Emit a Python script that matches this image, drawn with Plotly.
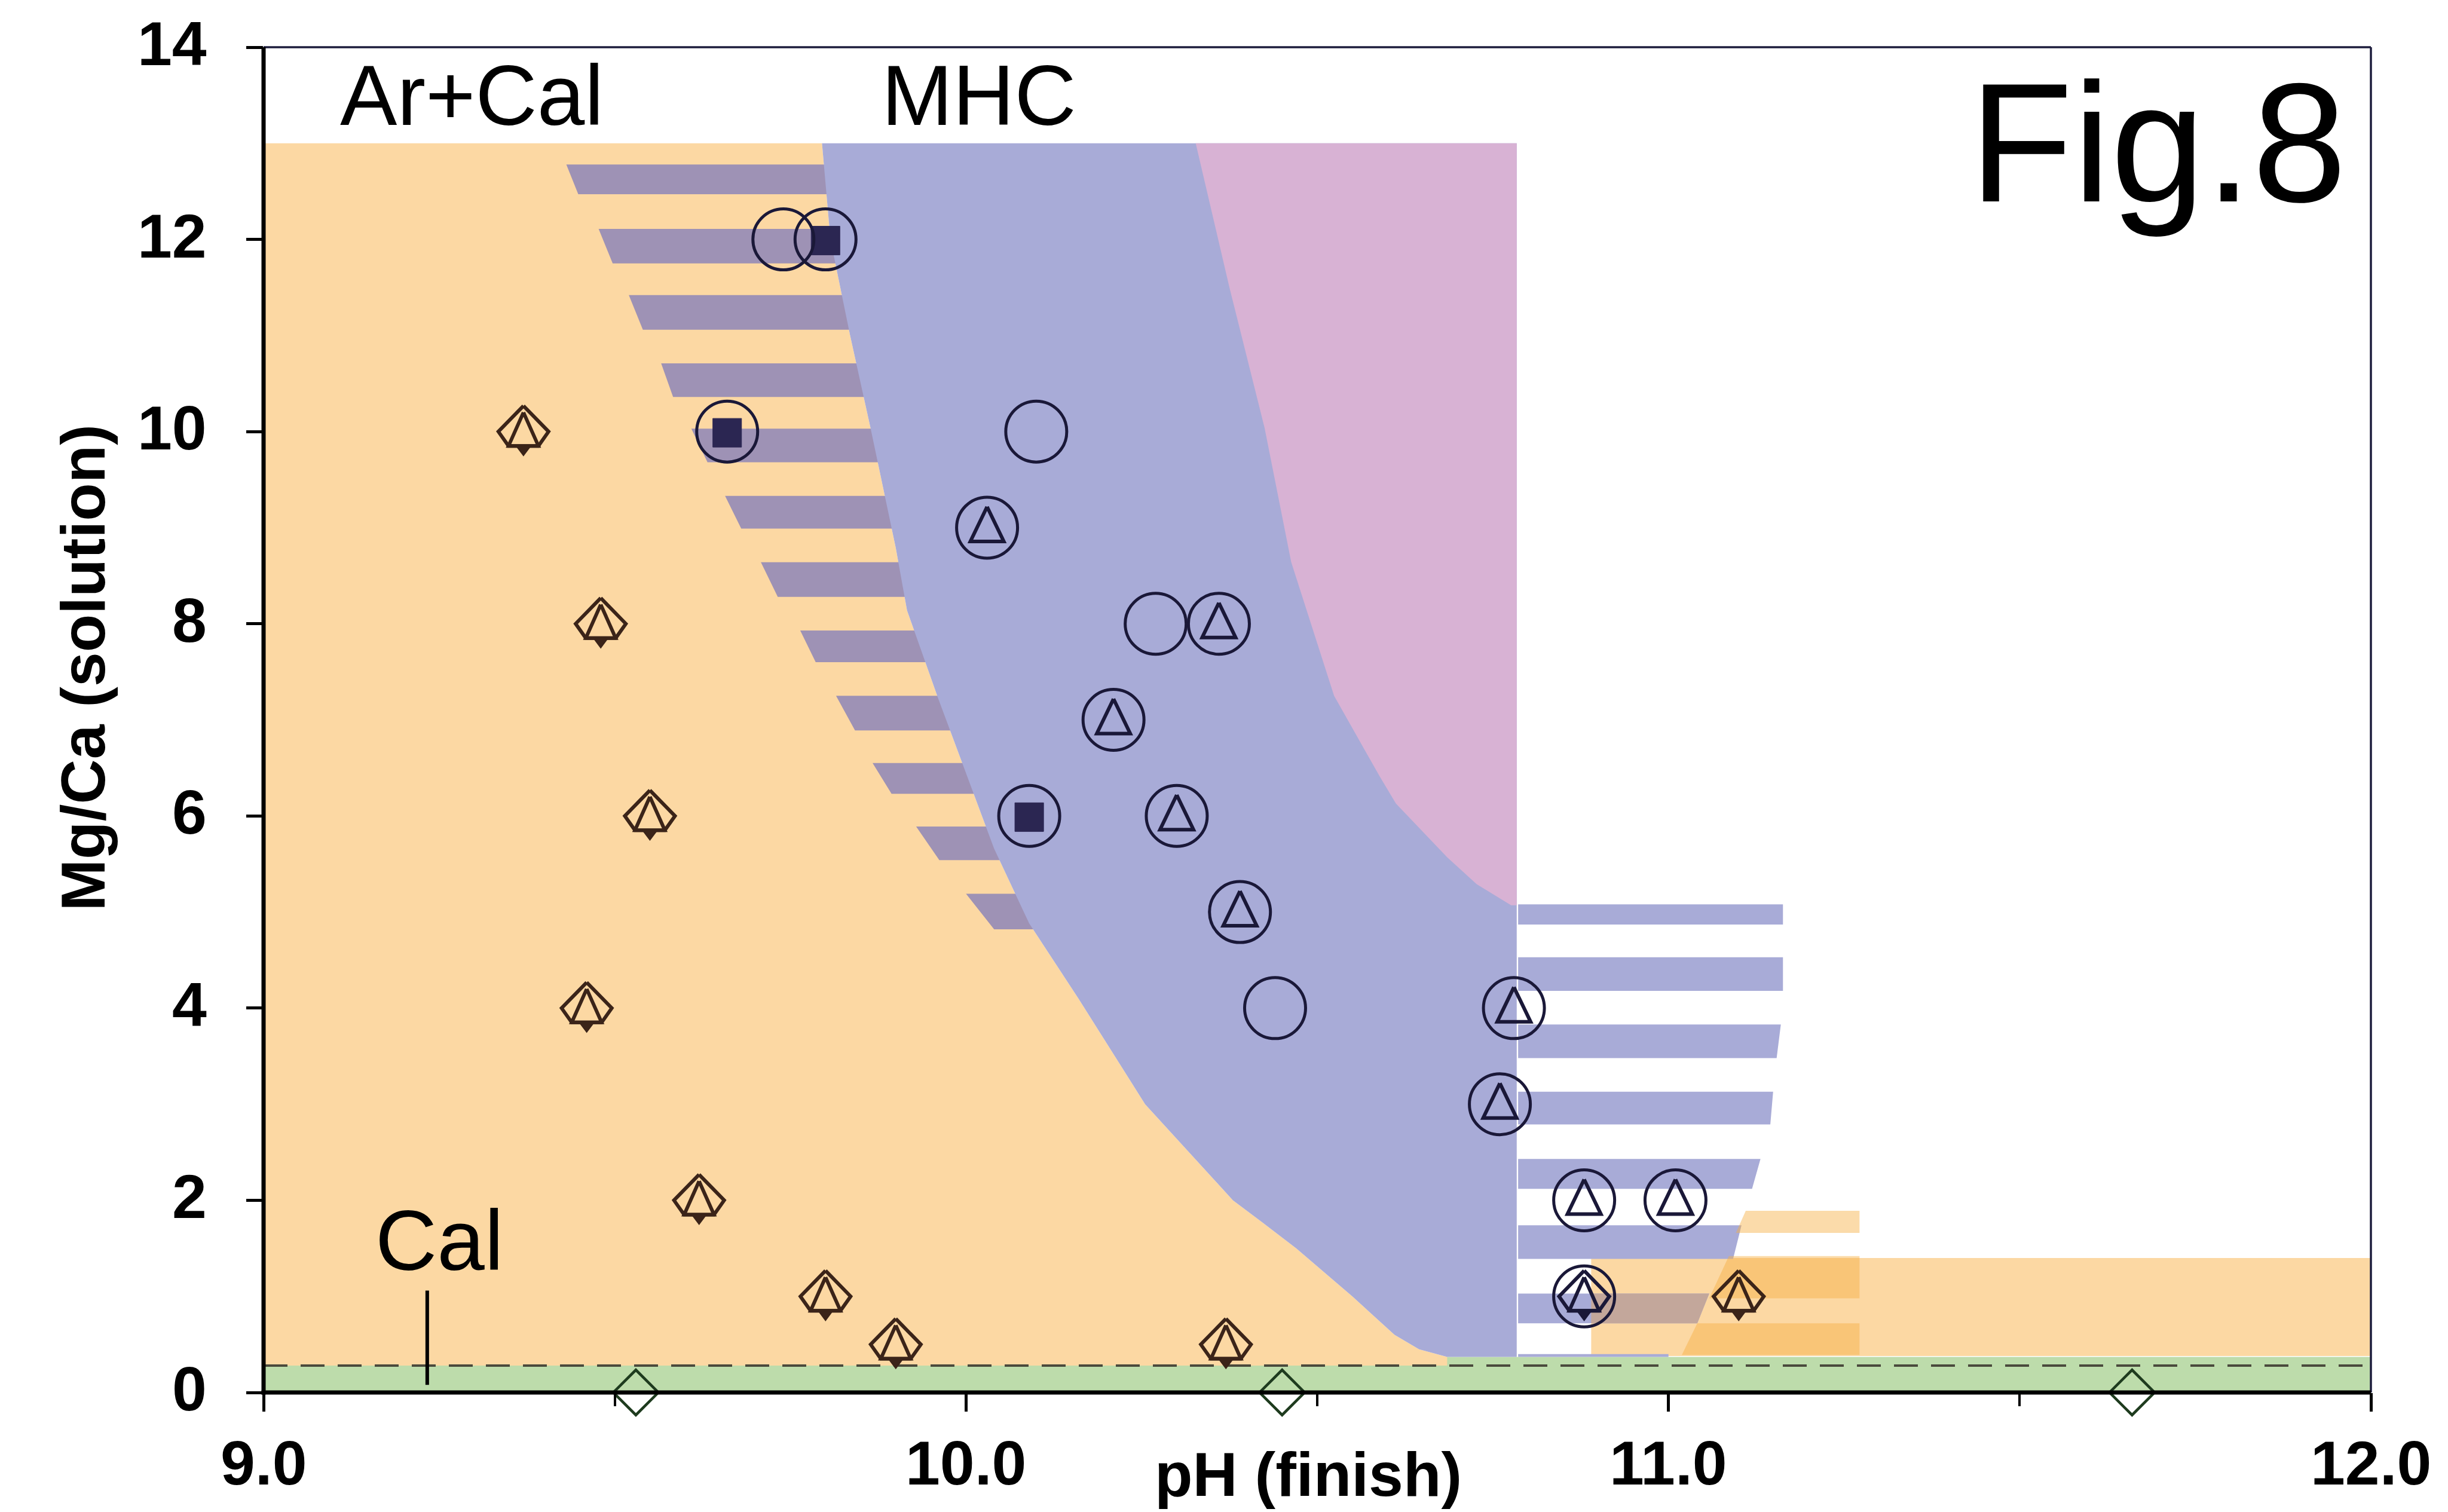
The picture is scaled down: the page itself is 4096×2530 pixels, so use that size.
import plotly.graph_objects as go

# ---------------------------------------------------------------- data ----
# Runs that gave aragonite + calcite (diamond/triangle symbol)
ARCAL_PH = [9.37, 9.48, 9.55, 9.46, 9.62, 9.80, 9.90, 10.37, 11.10]
ARCAL_MGCA = [10, 8, 6, 4, 2, 1, 0.5, 0.5, 1]

# Runs with monohydrocalcite (ringed)
RING_PH = [9.74, 9.80, 9.66, 10.10, 10.03, 10.27, 10.36, 10.21, 10.09,
           10.30, 10.39, 10.44, 10.78, 10.76, 10.88, 11.01, 10.88]
RING_MGCA = [12, 12, 10, 10, 9, 8, 8, 7, 6, 6, 5, 4, 4, 3, 2, 2, 1]

# Symbols drawn inside the rings
TRI_PH = [10.03, 10.36, 10.21, 10.30, 10.39, 10.78, 10.76, 10.88, 11.01]
TRI_MGCA = [9, 8, 7, 6, 5, 4, 3, 2, 2]
SQ_PH = [9.80, 9.66, 10.09]
SQ_MGCA = [12, 10, 6]
MIX_PH = [10.88]
MIX_MGCA = [1]

# Calcite-only runs
CAL_PH = [9.53, 10.45, 11.66]
CAL_MGCA = [0, 0, 0]

# Field boundaries
FIELD_TOP = 13.0
CAL_LIMIT = 0.28          # dashed calcite limit
GREEN_TOP = 0.37
MHC_RIGHT = 10.784

# Ar+Cal / MHC boundary (top -> bottom)
MHC_LEFT_PH = [9.795, 9.807, 9.835, 9.864, 9.900, 9.916, 9.960, 10.000, 10.040,
               10.090, 10.160, 10.255, 10.380, 10.420, 10.470, 10.550, 10.610, 10.645, 10.685]
MHC_LEFT_MGCA = [13.0, 12.0, 11.0, 10.04, 8.79, 8.14, 7.23, 6.45, 5.66,
                 4.88, 4.10, 3.00, 2.00, 1.78, 1.50, 1.00, 0.60, 0.45, 0.37]

# MHC / upper field boundary (top -> bottom)
UPPER_LEFT_PH = [10.327, 10.375, 10.425, 10.463, 10.524, 10.589, 10.612, 10.685, 10.727, 10.776]
UPPER_LEFT_MGCA = [13.0, 11.5, 10.04, 8.64, 7.25, 6.41, 6.13, 5.57, 5.29, 5.07]

# Hatched transition band, low-pH side
LH_TOP = [12.78, 12.11, 11.42, 10.71, 10.03, 9.33, 8.64, 7.93, 7.25, 6.55, 5.89, 5.19]
LH_BOT = [12.47, 11.75, 11.06, 10.36, 9.68, 8.99, 8.28, 7.60, 6.89, 6.23, 5.54, 4.82]
LH_X_TOP = [9.431, 9.477, 9.520, 9.566, 9.609, 9.657, 9.708, 9.764, 9.815, 9.867, 9.929, 10.000]
LH_X_BOT = [9.448, 9.497, 9.540, 9.583, 9.632, 9.680, 9.732, 9.786, 9.842, 9.894, 9.962, 10.040]
LH_X_END = 10.5

# Hatched MHC band, high-pH side
RH_TOP = [5.08, 4.53, 3.83, 3.13, 2.43, 1.74, 1.03, 0.40]
RH_BOT = [4.87, 4.18, 3.48, 2.79, 2.12, 1.39, 0.72, 0.37]
RH_X_END_TOP = [11.163, 11.163, 11.160, 11.149, 11.131, 11.104, 11.058, 11.000]
RH_X_END_BOT = [11.163, 11.163, 11.154, 11.145, 11.119, 11.092, 11.041, 11.000]
RH_X_START = 10.786

# Ar+Cal field at high pH
AC2_PH = [10.89, 12.0]
AC2_MGCA = [0.38, 1.40]

# Hatched Ar+Cal band at high pH
OH_TOP = [1.89, 1.42, 0.72]
OH_BOT = [1.66, 0.98, 0.39]
OH_X_TOP = [11.110, 11.086, 11.041]
OH_X_BOT = [11.096, 11.058, 11.019]
OH_X_END = 11.272

# Cal label leader
CAL_TICK_PH = [9.233, 9.233]
CAL_TICK_MGCA = [0.08, 1.06]

X_TICKS = [9.0, 10.0, 11.0, 12.0]
X_TICKTEXT = ["9.0", "10.0", "11.0", "12.0"]
X_MINOR = [9.5, 10.5, 11.5]
Y_TICKS = [0, 2, 4, 6, 8, 10, 12, 14]

# --------------------------------------------------------------- style ----
W, H = 4096, 2530
M_L, M_R, M_T, M_B = 441, 129, 79, 200
X_RANGE = [9.0, 12.0]
Y_RANGE = [0.0, 14.0]
PLOT_W = W - M_L - M_R
PLOT_H = H - M_T - M_B
PX_X = PLOT_W / (X_RANGE[1] - X_RANGE[0])
PX_Y = PLOT_H / (Y_RANGE[1] - Y_RANGE[0])

ORANGE = "#fcd8a3"
BLUE = "#a8abd7"
PINK = "#d8b2d4"
GREEN = "#bddcab"
MAUVE = "#9e92b5"
BROWNISH = "#c3a79b"
ORANGE_HATCH = "rgba(246,176,66,0.45)"
NAVY = "#1a1838"
BROWN = "#3b2419"
SQ_FILL = "#2b2652"
CAL_GREEN = "#1e3b1e"
FONT = "Liberation Sans"

# glyph outlines in screen pixels (dx right, dy up)
TRI_GLYPH = [(0, 35), (28, -23), (-28, -23), (0, 35)]
SQ_GLYPH = [(-24, 22), (24, 22), (24, -26), (-24, -26), (-24, 22)]
AC_OUTER = [(0, 43), (42, 0), (25, -24), (-25, -24), (-42, 0), (0, 43)]
AC_INNER = [(0, 32), (25, -24), (-25, -24), (0, 32)]
AC_WEDGE = [(-12, -24), (12, -24), (0, -40), (-12, -24)]


def glyph_path(px, py, outline):
    gx, gy = [], []
    for x0, y0 in zip(px, py):
        for dx, dy in outline:
            gx.append(x0 + dx / PX_X)
            gy.append(y0 + dy / PX_Y)
        gx.append(None)
        gy.append(None)
    return gx, gy


def bands(tops, bots, xl_top, xl_bot, xr_top, xr_bot):
    xs, ys = [], []
    for t, b, a, c, d, e in zip(tops, bots, xl_top, xl_bot, xr_top, xr_bot):
        xs += [a, d, e, c, a, None]
        ys += [t, t, b, b, t, None]
    return xs, ys


def area(fig, xs, ys, color):
    fig.add_trace(go.Scatter(x=xs, y=ys, mode="lines", fill="toself", fillcolor=color,
                             line=dict(width=0, color=color), hoverinfo="skip"))


def outline(fig, xs, ys, color, width, fill=None):
    kw = dict(fill="toself", fillcolor=fill) if fill else {}
    fig.add_trace(go.Scatter(x=xs, y=ys, mode="lines", line=dict(color=color, width=width),
                             hoverinfo="skip", **kw))


fig = go.Figure()

# calcite strip along the bottom
area(fig, [X_RANGE[0], X_RANGE[1], X_RANGE[1], X_RANGE[0], X_RANGE[0]],
     [0, 0, GREEN_TOP, GREEN_TOP, 0], GREEN)

# Ar+Cal field
area(fig,
     [X_RANGE[0], X_RANGE[0]] + MHC_LEFT_PH + [MHC_LEFT_PH[-1], X_RANGE[0]],
     [CAL_LIMIT, FIELD_TOP] + MHC_LEFT_MGCA + [CAL_LIMIT, CAL_LIMIT], ORANGE)

# hatched transition band (low pH side)
n = len(LH_TOP)
hx, hy = bands(LH_TOP, LH_BOT, LH_X_TOP, LH_X_BOT, [LH_X_END] * n, [LH_X_END] * n)
area(fig, hx, hy, MAUVE)

# MHC field
area(fig, MHC_LEFT_PH + [MHC_RIGHT, MHC_RIGHT, MHC_LEFT_PH[0]],
     MHC_LEFT_MGCA + [GREEN_TOP, FIELD_TOP, MHC_LEFT_MGCA[0]], BLUE)

# upper field
area(fig, UPPER_LEFT_PH + [MHC_RIGHT, MHC_RIGHT, UPPER_LEFT_PH[0]],
     UPPER_LEFT_MGCA + [UPPER_LEFT_MGCA[-1], FIELD_TOP, UPPER_LEFT_MGCA[0]], PINK)

# Ar+Cal field at high pH
area(fig, [AC2_PH[0], AC2_PH[1], AC2_PH[1], AC2_PH[0], AC2_PH[0]],
     [AC2_MGCA[0], AC2_MGCA[0], AC2_MGCA[1], AC2_MGCA[1], AC2_MGCA[0]], ORANGE)

# hatched MHC band (high pH side)
m = len(RH_TOP)
rx, ry = bands(RH_TOP, RH_BOT, [RH_X_START] * m, [RH_X_START] * m, RH_X_END_TOP, RH_X_END_BOT)
area(fig, rx, ry, BLUE)

# where a MHC stripe crosses the high-pH Ar+Cal field
k = 6
area(fig, [AC2_PH[0], RH_X_END_TOP[k], RH_X_END_BOT[k], AC2_PH[0], AC2_PH[0]],
     [RH_TOP[k], RH_TOP[k], RH_BOT[k], RH_BOT[k], RH_TOP[k]], BROWNISH)

# hatched Ar+Cal band (high pH side)
q = len(OH_TOP)
ox, oy = bands(OH_TOP, OH_BOT, OH_X_TOP, OH_X_BOT, [OH_X_END] * q, [OH_X_END] * q)
area(fig, ox, oy, ORANGE_HATCH)

# calcite limit
fig.add_trace(go.Scatter(x=X_RANGE, y=[CAL_LIMIT, CAL_LIMIT], mode="lines",
                         line=dict(color="#4a4a3c", width=4, dash="40px,22px"),
                         hoverinfo="skip"))

# leader for the Cal label
fig.add_trace(go.Scatter(x=CAL_TICK_PH, y=CAL_TICK_MGCA, mode="lines",
                         line=dict(color="black", width=6), hoverinfo="skip"))

# Ar+Cal runs
for shape in (AC_OUTER, AC_INNER):
    gx, gy = glyph_path(ARCAL_PH, ARCAL_MGCA, shape)
    outline(fig, gx, gy, BROWN, 6)
gx, gy = glyph_path(ARCAL_PH, ARCAL_MGCA, AC_WEDGE)
outline(fig, gx, gy, BROWN, 2, fill=BROWN)

# mixed run inside a ring
for shape in (AC_OUTER, AC_INNER):
    gx, gy = glyph_path(MIX_PH, MIX_MGCA, shape)
    outline(fig, gx, gy, NAVY, 6)
gx, gy = glyph_path(MIX_PH, MIX_MGCA, AC_WEDGE)
outline(fig, gx, gy, NAVY, 2, fill=NAVY)

# triangles inside rings
gx, gy = glyph_path(TRI_PH, TRI_MGCA, TRI_GLYPH)
outline(fig, gx, gy, NAVY, 6)

# filled squares inside rings
gx, gy = glyph_path(SQ_PH, SQ_MGCA, SQ_GLYPH)
outline(fig, gx, gy, SQ_FILL, 1, fill=SQ_FILL)

# rings
fig.add_trace(go.Scatter(x=RING_PH, y=RING_MGCA, mode="markers", hoverinfo="skip",
                         marker=dict(symbol="circle-open", size=102,
                                     line=dict(color=NAVY, width=5), color=NAVY)))

# calcite-only runs
fig.add_trace(go.Scatter(x=CAL_PH, y=CAL_MGCA, mode="markers", hoverinfo="skip",
                         cliponaxis=False,
                         marker=dict(symbol="diamond-open", size=58,
                                     line=dict(color=CAL_GREEN, width=4.5), color=CAL_GREEN)))

# ---------------------------------------------------------------- text ----
ann = [
    dict(text="Ar+Cal", x=9.107, y=13.5, xanchor="left", size=143),
    dict(text="MHC", x=9.878, y=13.5, xanchor="left", size=143),
    dict(text="Cal", x=9.157, y=1.585, xanchor="left", size=143),
    dict(text="Fig.8", x=11.967, y=13.0, xanchor="right", size=284),
]
for a in ann:
    fig.add_annotation(text=a["text"], x=a["x"], y=a["y"], xref="x", yref="y",
                       xanchor=a["xanchor"], yanchor="middle", showarrow=False,
                       font=dict(family=FONT, size=a["size"], color="black"))

tick_font = dict(family=FONT, size=104, color="black", weight="bold")

# tick labels, set a fixed distance below / left of the axis lines
X_LABEL_GAP = 118   # px from x-axis to label centre
Y_LABEL_GAP = 93    # px from y-axis to label right edge
for v, t in zip(X_TICKS, X_TICKTEXT):
    fig.add_annotation(text=t, x=v, y=-X_LABEL_GAP / PLOT_H, xref="x", yref="paper",
                       xanchor="center", yanchor="middle", showarrow=False, font=tick_font)
for v in Y_TICKS:
    fig.add_annotation(text=str(v), x=-Y_LABEL_GAP / PLOT_W,
                       y=(v - Y_RANGE[0]) / (Y_RANGE[1] - Y_RANGE[0]) + 6 / PLOT_H,
                       xref="paper", yref="paper", xanchor="right", yanchor="middle",
                       showarrow=False, font=tick_font)

fig.add_annotation(text="pH (finish)", x=0.4958, y=-0.0609, xref="paper", yref="paper",
                   xanchor="center", yanchor="middle", showarrow=False,
                   font=dict(family=FONT, size=104, color="black", weight="bold"))
fig.add_annotation(text="Mg/Ca (solution)", x=-0.0857, y=0.539, xref="paper", yref="paper",
                   xanchor="center", yanchor="middle", showarrow=False, textangle=-90,
                   font=dict(family=FONT, size=104, color="black", weight="bold"))

# frame: heavy left/bottom axes, thin top/right
fig.add_shape(type="line", xref="paper", yref="paper", x0=0, x1=1, y0=1, y1=1,
              line=dict(color="#1c1c3c", width=3.5))
fig.add_shape(type="line", xref="paper", yref="paper", x0=1, x1=1, y0=0, y1=1,
              line=dict(color="#1c1c3c", width=3.5))
fig.add_shape(type="line", xref="paper", yref="paper", x0=0, x1=0, y0=-3.5 / PLOT_H, y1=1,
              line=dict(color="black", width=7))
fig.add_shape(type="line", xref="paper", yref="paper", x0=-3.5 / PLOT_W, x1=1, y0=0, y1=0,
              line=dict(color="black", width=7))

fig.update_xaxes(range=X_RANGE, tickvals=X_TICKS, showticklabels=False, ticks="outside",
                 ticklen=31, tickwidth=5, tickcolor="black", showline=False,
                 showgrid=False, zeroline=False, automargin=False,
                 minor=dict(tickvals=X_MINOR, ticks="outside", ticklen=22, tickwidth=4,
                            tickcolor="black", showgrid=False))
fig.update_yaxes(range=Y_RANGE, tickvals=Y_TICKS, showticklabels=False, ticks="outside",
                 ticklen=28, tickwidth=5, tickcolor="black", showline=False,
                 showgrid=False, zeroline=False, automargin=False)

fig.update_layout(width=W, height=H, margin=dict(l=M_L, r=M_R, t=M_T, b=M_B),
                  plot_bgcolor="white", paper_bgcolor="white", showlegend=False)

fig.write_html("out.html")
